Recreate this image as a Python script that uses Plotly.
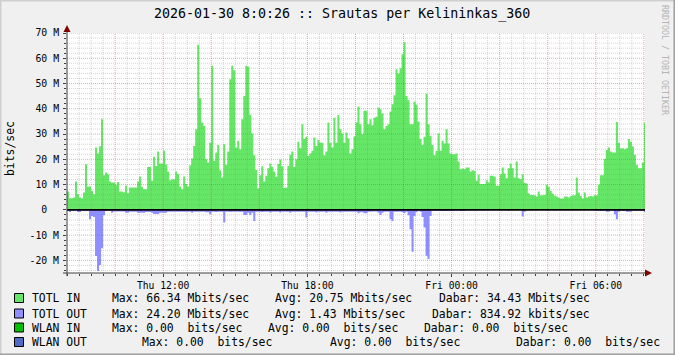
import plotly.graph_objects as go
import pandas as pd

# ---------------- data (Mbits/sec, 5-minute steps) ----------------
totl_in = [
    # Thu 08:00 ...
    7.3, 4.6, 4.6, 4.9, 11.2, 6.2, 4.9, 4.6, 6.9, 18.0,
    9.2, 9.2, 7.5, 6.2, 24.7, 22.3, 25.2, 35.9, 13.7, 14.8,
    14.1, 11.2, 10.8, 10.8, 9.9, 11.0, 7.3, 7.3, 7.0, 9.6,
    6.6, 8.8, 8.8, 8.8, 8.8, 11.2, 13.2, 9.1, 8.2, 8.2,
    17.0, 17.0, 11.5, 21.0, 17.4, 23.1, 18.3, 18.3, 23.4, 17.9,
    15.2, 11.7, 12.1, 12.1, 15.2, 14.1, 9.2, 8.2, 13.2, 10.2,
    9.2, 17.7, 20.3, 25.3, 31.9, 65.3, 44.2, 34.6, 33.2, 20.0,
    18.7,
    # ~ Thu 14:00
    26.6, 57.0, 19.4, 22.7, 25.7, 15.7, 12.8, 26.0, 17.8, 23.1,
    51.7, 57.0, 55.3, 24.7, 27.3, 24.0, 35.9, 45.1, 57.0, 56.6,
    37.6, 30.2, 21.6, 15.8, 8.4, 13.7, 17.3, 11.2, 13.5, 16.5,
    18.3, 17.0, 15.2, 13.1, 18.1, 19.9, 17.3, 8.6, 8.8, 17.4,
    21.8, 23.1, 17.0, 20.0, 27.0, 24.4, 33.9, 28.0, 28.9, 21.4,
    22.3, 23.4, 28.6, 25.3, 27.6, 26.6, 26.6, 21.6, 23.1, 34.6,
    26.6, 24.7, 36.5, 26.6, 37.5, 31.9, 30.2, 26.6, 30.6, 28.2,
    22.3, 24.0, 29.0,
    # ~ Thu 20:00
    34.6, 40.9, 33.9, 29.9, 39.2, 39.2, 33.9, 35.9, 33.5, 36.5,
    36.8, 40.5, 39.8, 38.1, 31.9, 33.2, 33.9, 38.9, 41.8, 45.4,
    55.7, 54.0, 56.0, 61.6, 66.3, 45.1, 43.4, 33.9, 33.9, 42.9,
    41.6, 35.0, 28.0, 25.7, 28.9, 46.0, 33.9, 29.3, 25.7, 21.6,
    23.4, 30.2, 23.4, 27.3, 26.3, 31.9, 26.3, 22.3, 22.0, 22.0,
    22.3, 19.1, 16.1, 16.4, 16.1, 16.8, 16.8, 15.2, 15.7, 15.4,
    11.5, 13.9, 10.2, 10.2, 10.2, 11.7, 10.8, 13.5, 13.5, 13.2,
    9.5, 9.5,
    # ~ Fri 02:00
    14.1, 16.8, 14.4, 12.5, 16.5, 18.3, 16.5, 12.8, 19.1, 12.5,
    12.1, 14.1, 10.6, 10.4, 6.6, 5.9, 5.9, 5.8, 5.3, 7.3,
    5.8, 5.8, 5.9, 9.9, 9.1, 7.5, 6.5, 5.7, 5.3, 4.9,
    4.5, 4.5, 5.3, 5.3, 4.9, 5.4, 5.8, 5.8, 12.8, 6.9,
    5.5, 4.5, 6.9, 4.9, 5.3, 5.5, 5.3, 5.8, 5.8, 9.9,
    13.7, 13.7, 20.1, 23.7, 24.7, 23.1, 22.7, 22.7, 34.8, 26.6,
    24.3, 24.4, 24.0, 24.4, 28.0, 27.0, 25.1, 21.8, 17.8, 16.5,
    16.5, 18.7, 34.43,
]

totl_out = [
    0.5, 0.9, 0.4, 0.4, 0.4, 0.9, 0.9, 0.4, 0.5, 0.5,
    0.5, 3.7, 2.4, 2.8, 18.3, 24.2, 21.8, 15.2, 2.1, 0.5,
    0.5, 0.5, 1.2, 0.7, 0.7, 0.7, 0.7, 0.7, 0.7, 1.2,
    1.2, 0.8, 0.8, 0.8, 0.8, 1.2, 1.2, 1.2, 1.2, 0.9,
    0.9, 0.9, 1.2, 1.6, 1.6, 1.6, 1.2, 1.2, 1.2, 1.2,
    0.8, 0.8, 0.8, 0.8, 0.8, 0.8, 0.8, 0.8, 0.8, 0.8,
    0.8, 0.8, 1.2, 0.8, 0.8, 0.8, 0.8, 0.8, 0.8, 1.0,
    1.0,
    1.7, 0.8, 0.8, 0.9, 0.8, 0.8, 0.8, 5.0, 0.8, 0.8,
    0.9, 0.8, 0.8, 0.8, 0.8, 0.9, 0.8, 2.0, 2.0, 1.2,
    2.0, 1.2, 4.4, 0.8, 0.8, 0.8, 0.9, 0.8, 0.8, 0.8,
    1.1, 0.8, 0.8, 0.8, 0.8, 1.1, 0.8, 0.8, 0.8, 0.8,
    1.2, 0.8, 0.8, 0.8, 0.8, 0.8, 0.8, 0.8, 3.0, 0.8,
    0.8, 0.8, 0.8, 1.1, 0.8, 0.8, 0.8, 0.8, 1.2, 0.8,
    0.8, 0.8, 0.8, 0.8, 0.8, 1.1, 0.8, 0.8, 0.8, 0.8,
    0.8, 0.8, 0.8,
    0.8, 1.3, 1.0, 1.0, 1.3, 1.3, 0.8, 0.8, 0.7, 0.7,
    0.7, 1.2, 2.0, 1.2, 0.8, 0.8, 0.8, 3.7, 4.4, 0.8,
    0.8, 0.8, 0.8, 1.0, 1.3, 0.8, 2.1, 7.7, 16.6, 2.4,
    1.0, 0.4, 0.8, 2.8, 7.0, 18.2, 19.5, 2.4, 0.5, 0.5,
    0.5, 0.5, 0.5, 0.5, 0.5, 0.5, 0.5, 0.5, 0.3, 0.3,
    0.3, 0.3, 0.5, 0.5, 0.5, 0.2, 0.2, 0.2, 0.2, 0.2,
    0.2, 0.2, 0.2, 0.2, 0.2, 0.2, 0.2, 0.2, 0.2, 0.2,
    0.2, 0.2,
    0.1, 0.1, 0.1, 0.1, 0.4, 0.1, 0.1, 0.1, 0.1, 0.1,
    0.1, 2.6, 0.8, 0.1, 0.1, 0.1, 0.1, 0.1, 0.1, 0.1,
    0.1, 0.1, 0.1, 0.1, 0.1, 0.1, 0.1, 0.1, 0.1, 0.1,
    0.1, 0.1, 0.1, 0.1, 0.1, 0.1, 0.1, 0.1, 0.1, 0.1,
    0.1, 0.1, 0.1, 0.1, 0.1, 0.1, 0.1, 0.1, 0.4, 0.4,
    0.4, 0.4, 0.4, 0.8, 0.8, 0.4, 0.4, 1.7, 3.7, 0.8,
    0.4, 0.4, 0.4, 0.8, 0.8, 0.8, 0.4, 0.4, 0.4, 0.4,
    0.4, 0.4, 0.83,
]

y_tick_vals = [-20, -10, 0, 10, 20, 30, 40, 50, 60, 70]
y_tick_text = ["-20 M", "-10 M", "0\u00a0\u00a0", "10 M", "20 M", "30 M",
               "40 M", "50 M", "60 M", "70 M"]
x_tick_vals = ["2026-01-29 12:00", "2026-01-29 18:00", "2026-01-30 00:00", "2026-01-30 06:00"]
x_tick_text = ["Thu 12:00", "Thu 18:00", "Fri 00:00", "Fri 06:00"]

legend_names = ["TOTL IN", "TOTL OUT", "WLAN IN", "WLAN OUT"]
legend_colors = ["#66E666", "#8F8FFF", "#00C000", "#4F6BC6"]
legend_max = ["Max: 66.34 Mbits/sec", "Max: 24.20 Mbits/sec", "Max: 0.00  bits/sec", "Max: 0.00  bits/sec"]
legend_avg = ["Avg: 20.75 Mbits/sec", "Avg: 1.43 Mbits/sec", "Avg: 0.00  bits/sec", "Avg: 0.00  bits/sec"]
legend_cur = ["Dabar: 34.43 Mbits/sec", "Dabar: 834.92 kbits/sec", "Dabar: 0.00  bits/sec", "Dabar: 0.00  bits/sec"]

title_text = "2026-01-30 8:0:26 :: Srautas per Kelininkas_360"

# ---------------- build ----------------
W, H = 675, 355
PL, PR, PT, PB = 67, 645, 33, 273
FONT = "DejaVu Sans Mono"


def px(x):
    return (x - PL) / (PR - PL)


def py(y):
    return (PB - y) / (PB - PT)


step = pd.Timedelta(minutes=5)
start = pd.Timestamp("2026-01-29 08:00:00")
times = [start + step * i for i in range(len(totl_in))]
times_ext = times + [times[-1] + step]
in_ext = totl_in + [totl_in[-1]]
out_ext = [-v for v in totl_out] + [-totl_out[-1]]

fig = go.Figure()
fig.add_trace(go.Scatter(x=times_ext, y=in_ext, mode="lines", line=dict(shape="hv", width=0, color="#66E666"),
                         fill="tozeroy", fillcolor="#66E666", showlegend=False, hoverinfo="skip"))
fig.add_trace(go.Scatter(x=times_ext, y=out_ext, mode="lines", line=dict(shape="hv", width=0, color="#8F8FFF"),
                         fill="tozeroy", fillcolor="#8F8FFF", showlegend=False, hoverinfo="skip"))

x0 = pd.Timestamp("2026-01-29 08:00:00")
x1 = pd.Timestamp("2026-01-30 08:02:40")

shapes = []
minor_col = "rgba(143,143,143,0.38)"
major_col = "rgba(192,80,80,0.48)"
dash = "1px,1px"
# vertical grid
t = x0 + pd.Timedelta(minutes=30)
while t <= x1:
    major = (t.minute == 0 and t.hour % 2 == 0)
    shapes.append(dict(type="line", xref="x", yref="paper", x0=t, x1=t, y0=0, y1=1, layer="above",
                       line=dict(color=major_col if major else minor_col, width=1, dash=dash)))
    t += pd.Timedelta(minutes=30)
# horizontal grid
for v in range(-24, 71, 2):
    if v == 0:
        continue
    major = (v % 10 == 0)
    shapes.append(dict(type="line", xref="paper", yref="y", x0=0, x1=1, y0=v, y1=v, layer="above",
                       line=dict(color=major_col if major else minor_col, width=1, dash=dash)))
# zero line
shapes.append(dict(type="line", xref="paper", yref="y", x0=0, x1=1, y0=0, y1=0, layer="above",
                   line=dict(color="#000000", width=1.6)))
# axes
axis_col = "#404040"
shapes.append(dict(type="line", xref="paper", yref="paper", x0=px(67), x1=px(67), y0=py(276), y1=py(30),
                   layer="above", line=dict(color=axis_col, width=1)))
shapes.append(dict(type="line", xref="paper", yref="paper", x0=px(63), x1=px(648), y0=py(273), y1=py(273),
                   layer="above", line=dict(color=axis_col, width=1)))
# arrows
arrow_col = "#800000"
shapes.append(dict(type="path", xref="paper", yref="paper",
                   path=f"M {px(63.5)} {py(32)} L {px(70.5)} {py(32)} L {px(67)} {py(25)} Z",
                   fillcolor=arrow_col, line=dict(width=0), layer="above"))
shapes.append(dict(type="path", xref="paper", yref="paper",
                   path=f"M {px(645)} {py(269.5)} L {px(645)} {py(276.5)} L {px(652)} {py(273)} Z",
                   fillcolor=arrow_col, line=dict(width=0), layer="above"))
# frame
shapes.append(dict(type="line", xref="paper", yref="paper", x0=px(0), x1=px(675), y0=py(0.5), y1=py(0.5),
                   line=dict(color="#CFCFCF", width=2)))
shapes.append(dict(type="line", xref="paper", yref="paper", x0=px(0.5), x1=px(0.5), y0=py(0), y1=py(355),
                   line=dict(color="#CFCFCF", width=2)))
shapes.append(dict(type="line", xref="paper", yref="paper", x0=px(0), x1=px(675), y0=py(354.5), y1=py(354.5),
                   line=dict(color="#9E9E9E", width=2)))
shapes.append(dict(type="line", xref="paper", yref="paper", x0=px(674.5), x1=px(674.5), y0=py(0), y1=py(355),
                   line=dict(color="#9E9E9E", width=2)))

annotations = []
annotations.append(dict(text=title_text, xref="paper", yref="paper", x=px(342), y=py(14),
                        xanchor="center", yanchor="middle", showarrow=False,
                        font=dict(family=FONT, size=13.3, color="#000000")))
annotations.append(dict(text="bits/sec", xref="paper", yref="paper", x=px(10), y=py(149),
                        xanchor="center", yanchor="middle", textangle=-90, showarrow=False,
                        font=dict(family=FONT, size=11.4, color="#000000")))
annotations.append(dict(text="RRDTOOL / TOBI OETIKER", xref="paper", yref="paper", x=px(665), y=py(60),
                        xanchor="center", yanchor="middle", textangle=90, showarrow=False,
                        font=dict(family=FONT, size=8.3, color="#B4B4B4")))

row_y = [298, 313.5, 327.5, 342]
col_x = [[110, 273, 437], [110, 273, 430], [110, 266, 422], [140, 328, 514]]
for i in range(4):
    yy = row_y[i]
    shapes.append(dict(type="rect", xref="paper", yref="paper", x0=px(14.5), x1=px(23.5),
                       y0=py(yy - 4.5), y1=py(yy + 4.5), fillcolor=legend_colors[i],
                       line=dict(color="#000000", width=1)))
    fields = [legend_names[i], legend_max[i], legend_avg[i], legend_cur[i]]
    xs = [30] + col_x[i]
    for f, xx in zip(fields, xs):
        annotations.append(dict(text=f.replace(" ", "\u00a0"), xref="paper", yref="paper", x=px(xx), y=py(yy),
                                xanchor="left", yanchor="middle", showarrow=False,
                                font=dict(family=FONT, size=11.4, color="#000000")))

fig.update_layout(
    width=W, height=H,
    margin=dict(l=PL, r=W - PR, t=PT, b=H - PB, pad=0),
    paper_bgcolor="#F0F0F0", plot_bgcolor="#FFFFFF",
    showlegend=False,
    shapes=shapes, annotations=annotations,
    xaxis=dict(type="date", range=[x0, x1], showgrid=False, zeroline=False, showline=False,
               tickmode="array", tickvals=x_tick_vals, ticktext=x_tick_text,
               ticks="outside", ticklen=3, tickcolor=axis_col, tickwidth=1,
               tickfont=dict(family=FONT, size=9.7, color="#000000"),
               minor=dict(dtick=30 * 60 * 1000, tick0="2026-01-29 08:00", ticks="outside",
                          ticklen=2, tickcolor=axis_col, showgrid=False)),
    yaxis=dict(range=[-25, 70], showgrid=False, zeroline=False, showline=False,
               tickmode="array", tickvals=y_tick_vals, ticktext=y_tick_text,
               ticks="outside", ticklen=3, tickcolor=axis_col, tickwidth=1, ticklabelstandoff=2,
               tickfont=dict(family=FONT, size=9.8, color="#000000"),
               minor=dict(dtick=2, tick0=0, ticks="outside", ticklen=2, tickcolor=axis_col, showgrid=False)),
)

fig.write_html("out.html")
